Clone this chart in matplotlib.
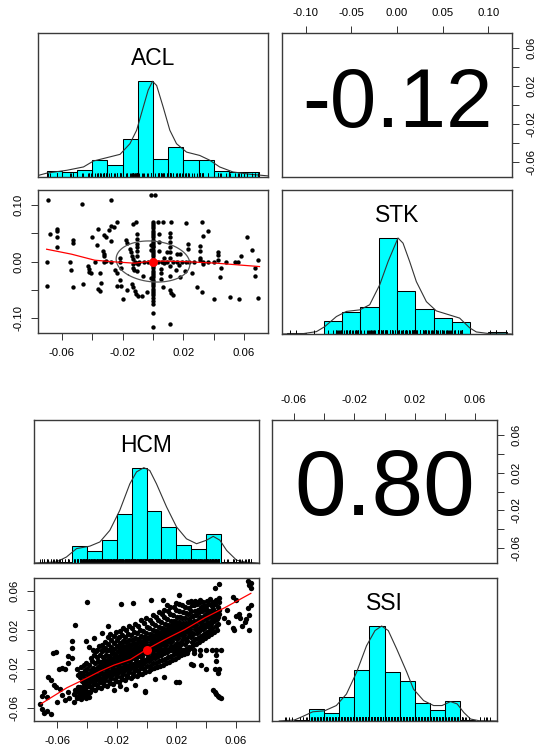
import numpy as np
import matplotlib
matplotlib.use("Agg")
import matplotlib.pyplot as plt

plt.rcParams["font.family"] = ["Liberation Sans", "DejaVu Sans"]
plt.rcParams["axes.unicode_minus"] = False

# ---------------- top pair: ACL / STK ----------------
acl_breaks = [-0.07, -0.06, -0.05, -0.04, -0.03, -0.02, -0.01, 0.0, 0.01, 0.02, 0.03, 0.04, 0.05, 0.06, 0.07]
acl_density = [2.1, 1.7, 2.6, 6.0, 4.4, 13.6, 34.3, 6.5, 10.7, 6.2, 6.2, 2.1, 1.9, 1.7]
acl_curve_x = [-0.0754, -0.0699, -0.0568, -0.0458, -0.0393, -0.0305, -0.0217, -0.0152, -0.0108, -0.0064,
               -0.0032, -0.0003, 0.0024, 0.0067, 0.0111, 0.0155, 0.0221, 0.0308, 0.0374, 0.0439, 0.0527, 0.0636, 0.0757]
acl_curve_y = [0.6, 1.4, 2.4, 3.6, 5.7, 6.9, 8.1, 11.9, 16.7, 25.0, 31.0, 34.2, 32.7, 25.0, 16.7, 11.9,
               8.9, 7.7, 6.0, 3.6, 1.8, 1.0, 0.4]

stk_breaks = [-0.12, -0.10, -0.08, -0.06, -0.04, -0.02, 0.0, 0.02, 0.04, 0.06, 0.08, 0.10, 0.12]
stk_density = [0.2, 0.0, 2.5, 4.3, 5.3, 18.7, 8.3, 4.8, 3.2, 2.3, 0.0, 0.3]
stk_curve_x = [-0.1266, -0.1029, -0.0883, -0.0792, -0.0664, -0.0554, -0.0408, -0.0299, -0.0189, -0.0098, 0.0011,
               0.0066, 0.0139, 0.0212, 0.0322, 0.0431, 0.0577, 0.0686, 0.0796, 0.0869, 0.1015, 0.1252]
stk_curve_y = [0.0, 0.07, 0.46, 1.43, 3.4, 4.4, 4.7, 5.7, 9.6, 14.1, 18.7, 17.7, 14.1, 10.2, 6.3, 4.5,
               3.7, 3.1, 1.2, 0.4, 0.07, 0.0]

acl_stk_points = [
    (-0.069, 0.109), (-0.070, 0.0), (-0.070, -0.043), (-0.068, 0.049), (-0.063, 0.058), (-0.063, 0.054),
    (-0.063, 0.043), (-0.063, 0.025), (-0.0545, 0.0), (-0.054, -0.015), (-0.053, -0.045), (-0.053, 0.038),
    (-0.053, 0.032), (-0.047, 0.102), (-0.046, -0.040), (-0.043, -0.008), (-0.0425, -0.013), (-0.042, -0.018),
    (-0.041, -0.021), (-0.040, 0.043), (-0.038, 0.0), (-0.037, 0.029), (-0.0365, 0.057), (-0.036, -0.049),
    (-0.035, -0.053), (-0.035, -0.021), (-0.034, -0.039), (-0.033, 0.019), (-0.0325, 0.014), (-0.032, 0.010),
    (-0.031, 0.001), (-0.032, 0.047), (-0.031, 0.043), (-0.029, 0.056), (-0.028, 0.063), (-0.028, 0.109),
    (-0.028, 0.037), (-0.026, 0.062), (-0.024, 0.071), (-0.025, -0.015), (-0.024, -0.021), (-0.024, -0.043),
    (-0.022, 0.007), (-0.022, 0.0), (-0.021, -0.011), (-0.022, -0.033), (-0.021, -0.043), (-0.020, -0.067),
    (-0.018, 0.038), (-0.017, 0.032), (-0.017, -0.051), (-0.015, 0.022), (-0.0145, 0.016), (-0.014, 0.010),
    (-0.0135, 0.004), (-0.0135, -0.005), (-0.013, -0.011), (-0.0125, -0.015), (-0.014, -0.040), (-0.013, -0.046),
    (-0.012, -0.052), (-0.011, -0.058), (-0.010, -0.061), (-0.013, 0.067), (-0.011, 0.071), (-0.0107, 0.049),
    (-0.0107, 0.040), (-0.0107, 0.031), (-0.0107, 0.025), (-0.0107, 0.019), (-0.0107, 0.010), (-0.0107, -0.002),
    (-0.0107, -0.017), (-0.0097, -0.005), (-0.007, -0.061), (-0.0064, -0.025), (-0.004, -0.055), (-0.003, 0.0),
    (-0.0015, 0.0), (-0.0015, 0.119), (0.0015, 0.119),
    (0.0, 0.071), (0.0, 0.067), (0.0, 0.063), (0.0, 0.059), (0.0, 0.055), (0.0, 0.051), (0.0, 0.047),
    (0.0, 0.043), (0.0, 0.039), (0.0, 0.035), (0.0, 0.031), (0.0, 0.028), (0.0, 0.025), (0.0, 0.021),
    (0.0, 0.017), (0.0, 0.013), (0.0, 0.009), (0.0, 0.005), (0.0, -0.004), (0.0, -0.008), (0.0, -0.012),
    (0.0, -0.016), (0.0, -0.020), (0.0, -0.024), (0.0, -0.028), (0.0, -0.032), (0.0, -0.036), (0.0, -0.040),
    (0.0, -0.044), (0.0, -0.048), (0.0, -0.052), (0.0, -0.056), (0.0, -0.060), (0.0, -0.065), (0.0, -0.070),
    (0.0, -0.076), (0.0, -0.091), (0.0, -0.117), (-0.0015, 0.030), (-0.0015, 0.020), (-0.0015, -0.030),
    (0.0034, 0.071), (0.0063, 0.070), (0.004, 0.049), (0.004, 0.034), (0.004, 0.019), (0.005, -0.013),
    (0.005, -0.021), (0.0055, -0.031), (0.0065, -0.045), (0.007, 0.007), (0.007, -0.002), (0.009, 0.016),
    (0.011, 0.050), (0.011, 0.043), (0.011, 0.034), (0.011, 0.025), (0.011, 0.016), (0.011, 0.007),
    (0.011, -0.008), (0.011, -0.025), (0.011, -0.051), (0.012, -0.056), (0.013, -0.060), (0.012, 0.071),
    (0.011, -0.111), (0.013, 0.0), (0.015, -0.015), (0.017, -0.006), (0.016, 0.013), (0.018, 0.013),
    (0.018, -0.028), (0.0216, 0.069), (0.021, -0.017), (0.023, 0.031), (0.023, 0.022), (0.024, 0.0),
    (0.026, -0.021), (0.029, -0.045), (0.031, 0.028), (0.031, 0.019), (0.031, 0.007), (0.031, 0.002),
    (0.032, 0.071), (0.033, 0.045), (0.036, 0.055), (0.033, -0.005), (0.0326, -0.055), (0.036, 0.0),
    (0.040, -0.067), (0.043, 0.017), (0.043, 0.011), (0.043, 0.002), (0.045, -0.012), (0.044, -0.027),
    (0.051, -0.063), (0.054, 0.0), (0.056, 0.0), (0.058, 0.010), (0.057, -0.066), (0.062, 0.044),
    (0.065, 0.021), (0.067, -0.012), (0.067, -0.026), (0.069, 0.002), (0.069, -0.064),
    (-0.032, 0.0), (-0.028, 0.0), (-0.012, 0.0), (-0.009, 0.0), (-0.006, 0.0), (0.003, 0.0), (0.006, 0.0),
    (0.009, 0.0), (0.016, 0.0), (0.019, 0.0), (0.022, 0.0), (0.027, 0.0), (0.033, 0.0), (0.040, 0.0),
    (0.048, 0.0),
]
acl_stk_lowess_x = [-0.0701, -0.0537, -0.0384, -0.0252, -0.0121, 0.0, 0.0198, 0.0418, 0.0702]
acl_stk_lowess_y = [0.0218, 0.013, 0.0023, -0.0007, -0.003, 0.001, 0.0, -0.003, -0.009]
acl_mean, stk_mean = 0.0, 0.0
acl_sd, stk_sd = 0.0243, 0.0365
acl_stk_r = -0.12

# ---------------- bottom pair: HCM / SSI ----------------
hcm_breaks = [-0.07, -0.06, -0.05, -0.04, -0.03, -0.02, -0.01, 0.0, 0.01, 0.02, 0.03, 0.04, 0.05, 0.06, 0.07]
hcm_density = [0.3, 0.4, 4.8, 3.5, 6.7, 13.9, 27.2, 14.9, 10.2, 5.1, 4.1, 8.4, 0.3, 0.4]
hcm_curve_x = [-0.0752, -0.0606, -0.0539, -0.0471, -0.0382, -0.0314, -0.0247, -0.0180, -0.0112, -0.0067, -0.0018,
               0.0022, 0.0067, 0.0135, 0.0202, 0.0269, 0.0337, 0.0404, 0.0449, 0.0494, 0.0539, 0.0606, 0.0673, 0.0752]
hcm_curve_y = [0.0, 0.3, 1.7, 4.1, 4.8, 6.0, 9.3, 15.0, 22.6, 26.0, 27.2, 26.4, 22.6, 16.0, 10.3, 6.9,
               5.5, 6.5, 7.6, 6.5, 3.6, 0.8, 0.2, 0.0]

ssi_breaks = [-0.06, -0.05, -0.04, -0.03, -0.02, -0.01, 0.0, 0.01, 0.02, 0.03, 0.04, 0.05, 0.06]
ssi_density = [0.3, 3.5, 2.4, 7.3, 15.5, 29.0, 15.0, 12.1, 5.5, 3.2, 6.0, 0.2]
ssi_curve_x = [-0.0697, -0.0597, -0.0541, -0.0475, -0.0397, -0.0319, -0.0252, -0.0185, -0.0119, -0.0063, -0.0019,
               0.0025, 0.0081, 0.0148, 0.0192, 0.0259, 0.0325, 0.0381, 0.0437, 0.0481, 0.0525, 0.0570, 0.0625, 0.0748]
ssi_curve_y = [0.0, 0.3, 1.4, 2.8, 3.1, 4.7, 8.2, 14.8, 22.9, 27.5, 28.9, 27.5, 21.9, 14.8, 9.7, 6.2,
               4.7, 4.7, 5.9, 5.2, 2.6, 0.6, 0.1, 0.0]

hcm_ssi_points = [
    # lower-left tail
    (-0.0715, -0.056), (-0.0705, -0.061), (-0.069, -0.065), (-0.067, -0.063), (-0.064, -0.066), (-0.070, -0.047),
    (-0.069, -0.043), (-0.067, -0.049), (-0.066, -0.028), (-0.064, -0.031), (-0.062, -0.036), (-0.061, -0.038),
    (-0.063, -0.004), (-0.061, -0.003), (-0.059, -0.020), (-0.057, -0.019), (-0.055, -0.020), (-0.053, -0.007),
    (-0.053, -0.014), (-0.050, 0.009), (-0.050, 0.002), (-0.050, -0.009), (-0.048, 0.025), (-0.047, -0.020),
    (-0.046, -0.026), (-0.045, -0.024), (-0.040, 0.049), (-0.041, 0.009), (-0.039, 0.003), (-0.057, -0.046),
    (-0.055, -0.052), (-0.052, -0.050), (-0.058, -0.040), (-0.053, -0.043), (-0.060, -0.054), (-0.049, -0.054),
    # lower-left cluster
    (-0.049, -0.045), (-0.047, -0.048), (-0.046, -0.043), (-0.045, -0.046), (-0.044, -0.049), (-0.043, -0.044),
    (-0.042, -0.047), (-0.041, -0.050), (-0.040, -0.045), (-0.048, -0.041), (-0.045, -0.040), (-0.042, -0.042),
    (-0.044, -0.051), (-0.047, -0.050), (-0.039, -0.048), (-0.038, -0.043), (-0.046, -0.038), (-0.043, -0.039),
    # scattered outliers
    (-0.017, 0.046), (-0.009, 0.047), (0.003, 0.051), (0.011, 0.051), (0.014, 0.045), (0.022, 0.056),
    (0.020, -0.033), (-0.001, -0.043), (-0.001, -0.042), (-0.008, -0.036), (-0.014, -0.040), (-0.018, -0.037),
    (-0.022, -0.041), (0.022, -0.033), (-0.030, 0.017), (-0.035, 0.012), (-0.026, 0.024),
    # upper-right tail
    (0.046, 0.063), (0.049, 0.067), (0.058, 0.054), (0.060, 0.051), (0.060, 0.034), (0.062, 0.036),
    (0.063, 0.032), (0.058, 0.022), (0.059, 0.020), (0.068, 0.070), (0.069, 0.066), (0.070, 0.068),
    (0.070, 0.063), (0.068, 0.042), (0.070, 0.045), (0.066, 0.028), (0.067, 0.031), (0.069, 0.035),
    (0.064, 0.024), (0.069, 0.020), (0.052, 0.032), (0.054, 0.040), (0.055, 0.028),
    # lower-right streak and points
    (0.045, -0.041), (0.046, -0.043), (0.047, -0.045), (0.048, -0.047), (0.049, -0.048), (0.050, -0.050),
    (0.048, -0.024), (0.049, -0.020), (0.047, -0.012), (0.047, -0.006), (0.046, -0.020), (0.031, -0.016),
    (0.030, -0.015), (0.037, -0.016), (0.032, -0.004), (0.036, -0.006), (0.040, -0.020), (0.012, -0.028),
    (0.006, -0.030),
    # horizontal runs at zero
    (0.004, 0.0), (0.008, 0.0), (0.012, 0.0), (0.016, 0.0), (0.020, 0.0), (0.024, 0.0), (0.028, 0.0),
    (0.032, 0.0), (0.036, 0.0), (0.040, 0.0), (0.044, 0.0), (0.047, 0.0), (0.050, 0.0),
    (-0.036, 0.0), (-0.033, 0.0), (-0.030, 0.0), (-0.027, 0.0), (-0.024, 0.0),
    # upper-right cluster
    (0.041, 0.050), (0.043, 0.052), (0.045, 0.049), (0.047, 0.051), (0.049, 0.048), (0.042, 0.046),
    (0.044, 0.044), (0.046, 0.046), (0.048, 0.043), (0.041, 0.040), (0.043, 0.038), (0.045, 0.041),
    (0.047, 0.038), (0.049, 0.040), (0.042, 0.034), (0.044, 0.032), (0.046, 0.035), (0.048, 0.033),
    (0.040, 0.044), (0.049, 0.053), (0.030, 0.050), (0.033, 0.049), (0.036, 0.051), (0.038, 0.048),
    # main band
    (-0.0448, -0.038), (-0.0436, -0.032), (-0.0445, -0.028), (-0.0433, -0.024), (-0.0442, -0.018), (-0.0438, -0.041),
    (-0.0408, -0.042), (-0.0396, -0.037), (-0.0405, -0.033), (-0.0393, -0.029), (-0.0402, -0.025), (-0.0398, -0.020),
    (-0.0404, -0.014),
    (-0.0368, -0.040), (-0.0356, -0.035), (-0.0365, -0.031), (-0.0353, -0.027), (-0.0362, -0.023), (-0.0358, -0.019),
    (-0.0364, -0.012), (-0.0355, -0.006),
    (-0.0328, -0.038), (-0.0316, -0.033), (-0.0325, -0.029), (-0.0313, -0.025), (-0.0322, -0.021), (-0.0318, -0.017),
    (-0.0324, -0.012), (-0.0315, -0.006), (-0.0321, 0.004),
    (-0.0288, -0.036), (-0.0276, -0.031), (-0.0285, -0.027), (-0.0273, -0.023), (-0.0282, -0.019), (-0.0278, -0.015),
    (-0.0284, -0.011), (-0.0275, -0.006), (-0.0281, 0.002), (-0.0279, 0.008),
    (-0.0248, -0.034), (-0.0236, -0.029), (-0.0245, -0.025), (-0.0233, -0.021), (-0.0242, -0.017), (-0.0238, -0.013),
    (-0.0244, -0.009), (-0.0235, -0.004), (-0.0241, 0.003), (-0.0237, 0.010), (-0.0243, 0.016),
    (-0.0208, -0.032), (-0.0196, -0.027), (-0.0205, -0.023), (-0.0193, -0.019), (-0.0202, -0.015), (-0.0198, -0.011),
    (-0.0204, -0.007), (-0.0195, -0.002), (-0.0201, 0.004), (-0.0197, 0.010), (-0.0203, 0.018),
    (-0.0168, -0.030), (-0.0156, -0.025), (-0.0165, -0.021), (-0.0153, -0.017), (-0.0162, -0.013), (-0.0158, -0.009),
    (-0.0164, -0.005), (-0.0155, -0.001), (-0.0161, 0.004), (-0.0157, 0.009), (-0.0163, 0.015), (-0.0159, 0.022),
    (-0.0128, -0.028), (-0.0116, -0.023), (-0.0125, -0.019), (-0.0113, -0.015), (-0.0122, -0.011), (-0.0118, -0.007),
    (-0.0124, -0.003), (-0.0115, 0.001), (-0.0121, 0.005), (-0.0117, 0.010), (-0.0123, 0.016), (-0.0119, 0.024),
    (-0.0088, -0.027), (-0.0076, -0.021), (-0.0085, -0.017), (-0.0073, -0.013), (-0.0082, -0.009), (-0.0078, -0.005),
    (-0.0084, -0.001), (-0.0075, 0.003), (-0.0081, 0.007), (-0.0077, 0.012), (-0.0083, 0.018), (-0.0079, 0.026),
    (-0.0048, -0.025), (-0.0036, -0.019), (-0.0045, -0.015), (-0.0033, -0.011), (-0.0042, -0.007), (-0.0038, -0.003),
    (-0.0044, 0.001), (-0.0035, 0.005), (-0.0041, 0.009), (-0.0037, 0.014), (-0.0043, 0.020), (-0.0039, 0.030),
    (-0.0008, -0.023), (0.0004, -0.017), (-0.0005, -0.012), (0.0007, -0.008), (-0.0002, -0.004), (0.0002, 0.004),
    (-0.0004, 0.008), (0.0005, 0.012), (-0.0001, 0.017), (0.0003, 0.023), (-0.0003, 0.032),
    (0.0032, -0.020), (0.0044, -0.014), (0.0035, -0.009), (0.0047, -0.005), (0.0038, -0.001), (0.0042, 0.003),
    (0.0036, 0.007), (0.0045, 0.011), (0.0039, 0.015), (0.0043, 0.020), (0.0037, 0.027), (0.0041, 0.035),
    (0.0072, -0.018), (0.0084, -0.012), (0.0075, -0.007), (0.0087, -0.002), (0.0078, 0.002), (0.0082, 0.006),
    (0.0076, 0.010), (0.0085, 0.014), (0.0079, 0.018), (0.0083, 0.023), (0.0077, 0.030), (0.0081, 0.038),
    (0.0112, -0.016), (0.0124, -0.010), (0.0115, -0.004), (0.0127, 0.001), (0.0118, 0.005), (0.0122, 0.009),
    (0.0116, 0.013), (0.0125, 0.017), (0.0119, 0.021), (0.0123, 0.026), (0.0117, 0.033), (0.0121, 0.040),
    (0.0152, -0.013), (0.0164, -0.007), (0.0155, -0.001), (0.0167, 0.004), (0.0158, 0.008), (0.0162, 0.012),
    (0.0156, 0.016), (0.0165, 0.020), (0.0159, 0.024), (0.0163, 0.029), (0.0157, 0.036), (0.0161, 0.043),
    (0.0192, -0.010), (0.0204, -0.004), (0.0195, 0.002), (0.0207, 0.007), (0.0198, 0.012), (0.0202, 0.016),
    (0.0196, 0.020), (0.0205, 0.024), (0.0199, 0.028), (0.0203, 0.033), (0.0197, 0.040), (0.0201, 0.047),
    (0.0232, -0.006), (0.0244, 0.0), (0.0235, 0.006), (0.0247, 0.011), (0.0238, 0.015), (0.0242, 0.019),
    (0.0236, 0.023), (0.0245, 0.027), (0.0239, 0.032), (0.0243, 0.038), (0.0237, 0.045),
    (0.0272, -0.004), (0.0284, 0.003), (0.0275, 0.009), (0.0287, 0.014), (0.0278, 0.018), (0.0282, 0.022),
    (0.0276, 0.026), (0.0285, 0.031), (0.0279, 0.036), (0.0283, 0.042), (0.0277, 0.049),
    (0.0312, 0.005), (0.0324, 0.011), (0.0315, 0.016), (0.0327, 0.021), (0.0318, 0.025), (0.0322, 0.029),
    (0.0316, 0.034), (0.0325, 0.039), (0.0319, 0.045), (0.0323, 0.050),
    (0.0352, 0.008), (0.0364, 0.014), (0.0355, 0.019), (0.0367, 0.024), (0.0358, 0.028), (0.0362, 0.033),
    (0.0356, 0.038), (0.0365, 0.043), (0.0359, 0.048),
    (0.0392, 0.012), (0.0404, 0.018), (0.0395, 0.023), (0.0407, 0.027), (0.0398, 0.031), (0.0402, 0.036),
    (0.0396, 0.041),
    (0.0432, 0.016), (0.0444, 0.022), (0.0435, 0.026), (0.0447, 0.030), (0.0438, 0.037),
    (0.0472, 0.020), (0.0484, 0.026), (0.0475, 0.031), (0.0487, 0.036),
    # main band, in-between points
    (-0.0427, -0.044), (-0.0414, -0.039), (-0.0423, -0.035), (-0.0411, -0.030), (-0.0426, -0.026), (-0.0413, -0.021),
    (-0.0421, -0.016),
    (-0.0386, -0.043), (-0.0374, -0.038), (-0.0383, -0.033), (-0.0371, -0.029), (-0.0388, -0.025), (-0.0376, -0.021),
    (-0.0384, -0.016), (-0.0373, -0.009),
    (-0.0347, -0.041), (-0.0334, -0.036), (-0.0343, -0.031), (-0.0331, -0.027), (-0.0348, -0.023), (-0.0336, -0.019),
    (-0.0344, -0.014), (-0.0332, -0.008), (-0.0341, -0.002),
    (-0.0306, -0.039), (-0.0294, -0.034), (-0.0303, -0.030), (-0.0291, -0.025), (-0.0308, -0.021), (-0.0296, -0.017),
    (-0.0304, -0.013), (-0.0292, -0.008), (-0.0301, -0.002), (-0.0297, 0.005),
    (-0.0267, -0.037), (-0.0254, -0.032), (-0.0263, -0.027), (-0.0251, -0.023), (-0.0268, -0.019), (-0.0256, -0.015),
    (-0.0264, -0.011), (-0.0252, -0.007), (-0.0261, -0.001), (-0.0257, 0.006), (-0.0262, 0.013),
    (-0.0226, -0.035), (-0.0214, -0.030), (-0.0223, -0.025), (-0.0211, -0.021), (-0.0228, -0.017), (-0.0216, -0.013),
    (-0.0224, -0.009), (-0.0212, -0.005), (-0.0221, 0.001), (-0.0217, 0.007), (-0.0222, 0.014),
    (-0.0187, -0.033), (-0.0174, -0.028), (-0.0183, -0.023), (-0.0171, -0.019), (-0.0188, -0.015), (-0.0176, -0.011),
    (-0.0184, -0.007), (-0.0172, -0.003), (-0.0181, 0.002), (-0.0177, 0.007), (-0.0182, 0.013), (-0.0178, 0.019),
    (-0.0146, -0.031), (-0.0134, -0.026), (-0.0143, -0.021), (-0.0131, -0.017), (-0.0148, -0.013), (-0.0136, -0.009),
    (-0.0144, -0.005), (-0.0132, -0.001), (-0.0141, 0.003), (-0.0137, 0.008), (-0.0142, 0.013), (-0.0138, 0.020),
    (-0.0107, -0.029), (-0.0094, -0.024), (-0.0103, -0.019), (-0.0091, -0.015), (-0.0108, -0.011), (-0.0096, -0.007),
    (-0.0104, -0.003), (-0.0092, 0.001), (-0.0101, 0.005), (-0.0097, 0.010), (-0.0102, 0.015), (-0.0098, 0.022),
    (-0.0066, -0.027), (-0.0054, -0.022), (-0.0063, -0.017), (-0.0051, -0.013), (-0.0068, -0.009), (-0.0056, -0.005),
    (-0.0064, -0.001), (-0.0052, 0.003), (-0.0061, 0.007), (-0.0057, 0.011), (-0.0062, 0.017), (-0.0058, 0.024),
    (-0.0027, -0.025), (-0.0014, -0.020), (-0.0023, -0.015), (-0.0011, -0.011), (-0.0028, -0.007), (-0.0016, -0.003),
    (-0.0024, 0.001), (-0.0012, 0.005), (-0.0021, 0.009), (-0.0017, 0.013), (-0.0022, 0.019), (-0.0018, 0.027),
    (0.0014, -0.022), (0.0026, -0.017), (0.0017, -0.012), (0.0029, -0.008), (0.0012, -0.004), (0.0024, 0.0),
    (0.0016, 0.004), (0.0028, 0.008), (0.0019, 0.012), (0.0023, 0.016), (0.0018, 0.022), (0.0022, 0.030),
    (0.0053, -0.019), (0.0066, -0.014), (0.0057, -0.009), (0.0069, -0.005), (0.0052, -0.001), (0.0064, 0.003),
    (0.0056, 0.007), (0.0068, 0.011), (0.0059, 0.015), (0.0063, 0.019), (0.0058, 0.025), (0.0062, 0.033),
    (0.0094, -0.017), (0.0106, -0.011), (0.0097, -0.006), (0.0109, -0.002), (0.0092, 0.002), (0.0104, 0.006),
    (0.0096, 0.010), (0.0108, 0.014), (0.0099, 0.018), (0.0103, 0.022), (0.0098, 0.028), (0.0102, 0.036),
    (0.0133, -0.014), (0.0146, -0.008), (0.0137, -0.003), (0.0149, 0.001), (0.0132, 0.005), (0.0144, 0.009),
    (0.0136, 0.013), (0.0148, 0.017), (0.0139, 0.021), (0.0143, 0.025), (0.0138, 0.031), (0.0142, 0.039),
    (0.0174, -0.011), (0.0186, -0.005), (0.0177, 0.0), (0.0189, 0.005), (0.0172, 0.009), (0.0184, 0.013),
    (0.0176, 0.017), (0.0188, 0.021), (0.0179, 0.025), (0.0183, 0.029), (0.0178, 0.035), (0.0182, 0.043),
    (0.0213, -0.008), (0.0226, -0.002), (0.0217, 0.003), (0.0229, 0.008), (0.0212, 0.012), (0.0224, 0.016),
    (0.0216, 0.020), (0.0228, 0.024), (0.0219, 0.028), (0.0223, 0.033), (0.0218, 0.039), (0.0222, 0.046),
    (0.0254, -0.005), (0.0266, 0.001), (0.0257, 0.006), (0.0269, 0.011), (0.0252, 0.015), (0.0264, 0.019),
    (0.0256, 0.023), (0.0268, 0.027), (0.0259, 0.032), (0.0263, 0.037), (0.0258, 0.043),
    (0.0293, 0.002), (0.0306, 0.008), (0.0297, 0.013), (0.0309, 0.017), (0.0292, 0.021), (0.0304, 0.025),
    (0.0296, 0.029), (0.0308, 0.034), (0.0299, 0.039), (0.0303, 0.045),
    (0.0334, 0.006), (0.0346, 0.012), (0.0337, 0.017), (0.0349, 0.021), (0.0332, 0.025), (0.0344, 0.030),
    (0.0336, 0.035), (0.0348, 0.040), (0.0339, 0.046),
    (0.0373, 0.010), (0.0386, 0.016), (0.0377, 0.021), (0.0389, 0.025), (0.0372, 0.029), (0.0384, 0.034),
    (0.0376, 0.039), (0.0388, 0.044),
    (0.0414, 0.014), (0.0426, 0.020), (0.0417, 0.024), (0.0429, 0.028), (0.0412, 0.033), (0.0424, 0.039),
    (0.0453, 0.018), (0.0466, 0.024), (0.0457, 0.029), (0.0469, 0.034),
]
hcm_ssi_lowess_x = [-0.071, -0.0535, -0.0422, -0.031, -0.022, -0.0108, 0.0, 0.0123, 0.0258, 0.0393, 0.0527, 0.0702]
hcm_ssi_lowess_y = [-0.0555, -0.039, -0.0307, -0.022, -0.016, -0.0102, 0.0, 0.0102, 0.0205, 0.0324, 0.0427, 0.0573]
hcm_mean, ssi_mean = 0.0, 0.0
hcm_ssi_r = 0.80

acl_lim, stk_lim = 0.0758, 0.126
hcm_lim, ssi_lim = 0.0757, 0.0745

W, H = 537.0, 750.0
fig = plt.figure(figsize=(5.37, 7.5), dpi=100)


def rect(x0, x1, y0, y1):
    return [x0 / W, 1 - y1 / H, (x1 - x0) / W, (y1 - y0) / H]


def frame(ax):
    for s in ax.spines.values():
        s.set_color("#3a3a3a")
        s.set_linewidth(1.0)
    ax.tick_params(direction="out", length=5, width=0.7, labelsize=8.2, pad=5.5,
                   color="#333333", labelcolor="black")


def hist_panel(r, breaks, dens, cx, cy, rug, lim, title):
    ax = fig.add_axes(r)
    b = np.array(breaks)
    ax.bar(b[:-1], dens, width=np.diff(b), align="edge", color="cyan",
           edgecolor="black", linewidth=0.75)
    ax.plot(cx, cy, color="#333333", lw=0.8)
    ax.vlines(rug, 0, 0.03, transform=ax.get_xaxis_transform(), color="black", lw=0.7)
    ax.set_xlim(-lim, lim)
    ax.set_ylim(0, max(max(dens), max(cy)) * 1.5)
    ax.set_xticks([])
    ax.set_yticks([])
    ax.text(0.5, 0.82, title, transform=ax.transAxes, ha="center", va="center", fontsize=16.5)
    frame(ax)
    return ax


def labels(ticks, shown):
    return [("%.2f" % t) if t in shown else "" for t in ticks]


def corr_panel(r, txt, size, xlim, ylim, xt, xshown, yt, yshown):
    ax = fig.add_axes(r)
    ax.set_xlim(-xlim, xlim)
    ax.set_ylim(-ylim, ylim)
    ax.xaxis.tick_top()
    ax.yaxis.tick_right()
    ax.set_xticks(xt)
    ax.set_xticklabels(labels(xt, xshown))
    ax.set_yticks(yt)
    ax.set_yticklabels(labels(yt, yshown), rotation=90, va="center")
    ax.text(0.5, 0.5, txt, transform=ax.transAxes, ha="center", va="center", fontsize=size)
    frame(ax)
    return ax


def scatter_panel(r, pts, lx, ly, means, xlim, ylim, xt, xshown, yt, yshown, size, ell=None):
    ax = fig.add_axes(r)
    p = np.array(pts)
    ax.scatter(p[:, 0], p[:, 1], s=size, c="black", linewidths=0, zorder=2)
    if ell is not None:
        r_, xs, ys = ell
        th = (1 if r_ > 0 else -1) / np.sqrt(2)
        shape = np.diag([np.sqrt(1 + r_), np.sqrt(1 - r_)]) @ np.array([[th, th], [-th, th]])
        ang = np.linspace(0, 2 * np.pi, 80)
        e = np.column_stack([np.cos(ang), np.sin(ang)]) @ shape
        ax.plot(e[:, 0] * xs + means[0], e[:, 1] * ys + means[1], color="#555555", lw=0.9, zorder=3)
    ax.plot(lx, ly, color="red", lw=0.9, zorder=4)
    ax.scatter([means[0]], [means[1]], s=42, c="red", linewidths=0, zorder=5)
    ax.set_xlim(-xlim, xlim)
    ax.set_ylim(-ylim, ylim)
    ax.set_xticks(xt)
    ax.set_xticklabels(labels(xt, xshown))
    ax.set_yticks(yt)
    ax.set_yticklabels(labels(yt, yshown), rotation=90, va="center")
    frame(ax)
    return ax


t06 = [-0.06, -0.04, -0.02, 0.0, 0.02, 0.04, 0.06]
s06 = [-0.06, -0.02, 0.02, 0.06]
t10 = [-0.10, -0.05, 0.0, 0.05, 0.10]

top = np.array(acl_stk_points)
hist_panel(rect(38, 268, 33, 177), acl_breaks, acl_density, acl_curve_x, acl_curve_y, top[:, 0], acl_lim, "ACL")
corr_panel(rect(282, 512, 33, 177), "%.2f" % acl_stk_r, 60, stk_lim, acl_lim, t10, t10, t06, s06)
scatter_panel(rect(38, 268, 190, 333), acl_stk_points, acl_stk_lowess_x, acl_stk_lowess_y,
              (acl_mean, stk_mean), acl_lim, 0.127, t06, s06, t10, [-0.10, 0.0, 0.10], 10,
              ell=(acl_stk_r, acl_sd, stk_sd))
hist_panel(rect(282, 512, 190, 334), stk_breaks, stk_density, stk_curve_x, stk_curve_y, top[:, 1], stk_lim, "STK")

bot = np.array(hcm_ssi_points)
hist_panel(rect(34, 259, 420, 563), hcm_breaks, hcm_density, hcm_curve_x, hcm_curve_y, bot[:, 0], hcm_lim, "HCM")
corr_panel(rect(272, 497, 420, 563), "%.2f" % hcm_ssi_r, 67, ssi_lim, hcm_lim, t06, s06, t06, s06)
scatter_panel(rect(34, 259, 578, 721), hcm_ssi_points, hcm_ssi_lowess_x, hcm_ssi_lowess_y,
              (hcm_mean, ssi_mean), hcm_lim, 0.073, t06, s06, t06, s06, 15)
hist_panel(rect(272, 497, 578, 721), ssi_breaks, ssi_density, ssi_curve_x, ssi_curve_y, bot[:, 1], ssi_lim, "SSI")

fig.savefig("out.png", dpi=100)
